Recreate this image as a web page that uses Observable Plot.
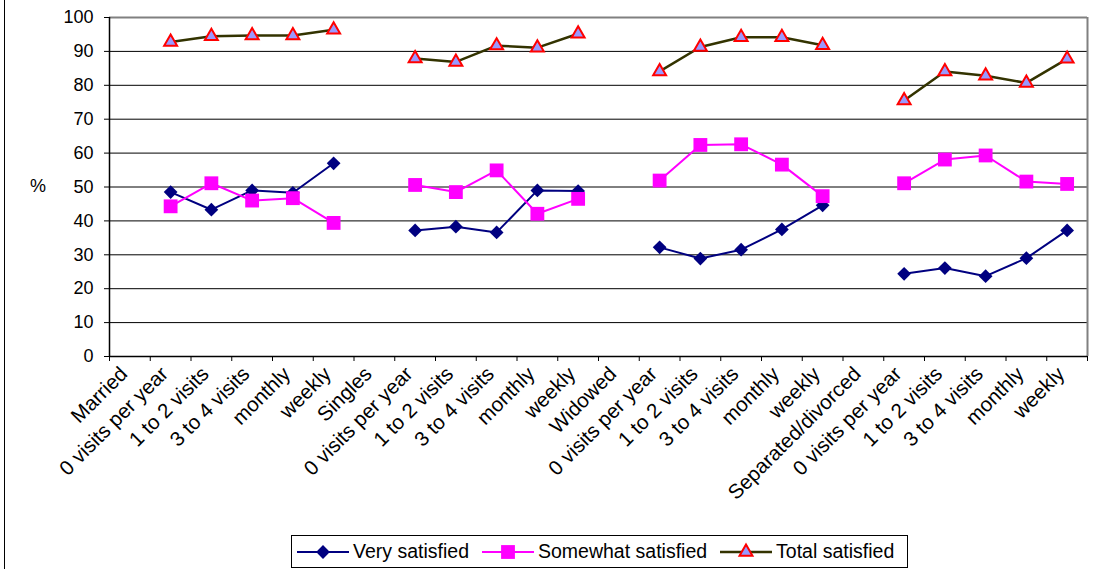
<!DOCTYPE html>
<html>
<head>
<meta charset="utf-8">
<script src="https://cdn.jsdelivr.net/npm/d3@7"></script>
<script src="https://cdn.jsdelivr.net/npm/@observablehq/plot@0.6"></script>
<style>
  html, body { margin: 0; padding: 0; background: #fff; }
  body { width: 1097px; height: 569px; position: relative; overflow: hidden; font-family: "Liberation Sans", Arial, sans-serif; }
  #outer { position: absolute; left: 4px; top: -3px; width: 1100px; height: 580px; border: 1.5px solid #000; box-sizing: border-box; }
  #chart { position: absolute; left: 0; top: 0; }
  #unit { position: absolute; left: 30px; top: 176px; font-size: 18px; }
  #legend { position: absolute; left: 291px; top: 535px; width: 617px; height: 33px; border: 1px solid #000; box-sizing: border-box; display: flex; align-items: center; font-size: 19.5px; }
  .item { display: flex; align-items: center; margin-left: 5px; margin-right: 8px; }
  .item svg { margin-right: 4px; }
</style>
</head>
<body>
<div id="outer"></div>
<div id="chart"></div>
<div id="unit">%</div>
<div id="legend"></div>
<script>
// Category labels along the x axis (group header followed by visit frequencies)
const categories = [
  "Married", "0 visits per year", "1 to 2 visits", "3 to 4 visits", "monthly", "weekly",
  "Singles", "0 visits per year", "1 to 2 visits", "3 to 4 visits", "monthly", "weekly",
  "Widowed", "0 visits per year", "1 to 2 visits", "3 to 4 visits", "monthly", "weekly",
  "Separated/divorced", "0 visits per year", "1 to 2 visits", "3 to 4 visits", "monthly", "weekly"
];

// Percentages per category; group headers carry no value
const verySatisfied = [
  null, 48.5, 43.3, 49.0, 48.3, 57.0,
  null, 37.2, 38.3, 36.6, 49.0, 48.8,
  null, 32.2, 28.9, 31.5, 37.5, 44.6,
  null, 24.4, 26.1, 23.7, 29.0, 37.2
];
const somewhatSatisfied = [
  null, 44.3, 51.1, 46.0, 46.7, 39.4,
  null, 50.6, 48.5, 54.9, 42.1, 46.5,
  null, 51.9, 62.4, 62.6, 56.6, 47.3,
  null, 51.1, 58.1, 59.3, 51.6, 50.9
];
const totalSatisfied = [
  null, 92.8, 94.5, 94.7, 94.7, 96.4,
  null, 87.9, 86.9, 91.7, 91.1, 95.2,
  null, 84.1, 91.3, 94.2, 94.2, 91.8,
  null, 75.5, 84.1, 82.8, 80.7, 87.8
];

const yTicks = d3.range(0, 101, 10);

const series = [
  {name: "Very satisfied", values: verySatisfied, stroke: "#000080", symbol: "diamond2", r: 6.2, fill: "#000080", mstroke: "none", sw: 0},
  {name: "Somewhat satisfied", values: somewhatSatisfied, stroke: "#FF00FF", symbol: "square", r: 7.8, fill: "#FF00FF", mstroke: "none", sw: 0},
  {name: "Total satisfied", values: totalSatisfied, stroke: "#333300", symbol: "triangle", r: 4.8, fill: "#9999FF", mstroke: "#FF0000", sw: 2}
];

const rows = s => s.values.map((v, i) => ({x: i + 0.5, y: v}));

const marks = [
  // horizontal gridlines
  Plot.ruleY(d3.range(10, 100, 10), {stroke: "#000", strokeWidth: 1}),
  // plot frame: top and right in grey
  Plot.ruleY([100], {stroke: "#808080", strokeWidth: 2}),
  Plot.ruleX([24], {stroke: "#808080", strokeWidth: 2}),
  // y axis
  Plot.axisY(yTicks, {tickSize: 5, tickPadding: 11, fontSize: 18, stroke: "#000", tickFormat: d => d, label: null}),
  Plot.ruleX([0], {stroke: "#000", strokeWidth: 1.5}),
  // x axis: ticks at category boundaries
  Plot.ruleY([0], {stroke: "#000", strokeWidth: 1.5}),
  Plot.axisX(d3.range(0, 25), {tickSize: 5, tickFormat: () => "", stroke: "#000", label: null}),
  Plot.text(categories, {
    x: (d, i) => i + 0.5, y: () => 0, text: d => d,
    rotate: -45, textAnchor: "end", lineAnchor: "middle",
    dx: -6, dy: 14, fontSize: 20.5, fill: "#000"
  })
];

for (const s of series) {
  marks.push(Plot.line(rows(s), {x: "x", y: "y", stroke: s.stroke, strokeWidth: s.name === "Total satisfied" ? 2.5 : 2}));
}
for (const s of series) {
  marks.push(Plot.dot(rows(s).filter(d => d.y != null), {
    x: "x", y: "y", symbol: () => s.symbol, r: s.r,
    fill: s.fill, stroke: s.mstroke, strokeWidth: s.sw
  }));
}

const chart = Plot.plot({
  width: 1097,
  height: 530,
  marginLeft: 109,
  marginRight: 10,
  marginTop: 17,
  marginBottom: 174,
  style: {fontFamily: "'Liberation Sans', Arial, sans-serif", background: "transparent", overflow: "visible"},
  x: {type: "linear", domain: [0, 24], axis: null},
  y: {domain: [0, 100], axis: null},
  symbol: {type: "identity"},
  marks
});
document.getElementById("chart").appendChild(chart);

// Legend built from the same series definitions
const legend = document.getElementById("legend");
for (const s of series) {
  const item = document.createElement("div");
  item.className = "item";
  const ns = "http://www.w3.org/2000/svg";
  const svg = document.createElementNS(ns, "svg");
  svg.setAttribute("width", 52);
  svg.setAttribute("height", 20);
  const line = document.createElementNS(ns, "line");
  line.setAttribute("x1", 0); line.setAttribute("x2", 52);
  line.setAttribute("y1", 10); line.setAttribute("y2", 10);
  line.setAttribute("stroke", s.stroke);
  line.setAttribute("stroke-width", s.name === "Total satisfied" ? 2.5 : 2);
  svg.appendChild(line);
  const symbols = {diamond2: d3.symbolDiamond2, square: d3.symbolSquare, triangle: d3.symbolTriangle};
  const p = document.createElementNS(ns, "path");
  p.setAttribute("d", d3.symbol(symbols[s.symbol], Math.PI * s.r * s.r)());
  p.setAttribute("transform", "translate(26,10)");
  p.setAttribute("fill", s.fill);
  p.setAttribute("stroke", s.mstroke);
  p.setAttribute("stroke-width", s.sw);
  svg.appendChild(p);
  item.appendChild(svg);
  const label = document.createElement("span");
  label.textContent = s.name;
  item.appendChild(label);
  legend.appendChild(item);
}
</script>
</body>
</html>
